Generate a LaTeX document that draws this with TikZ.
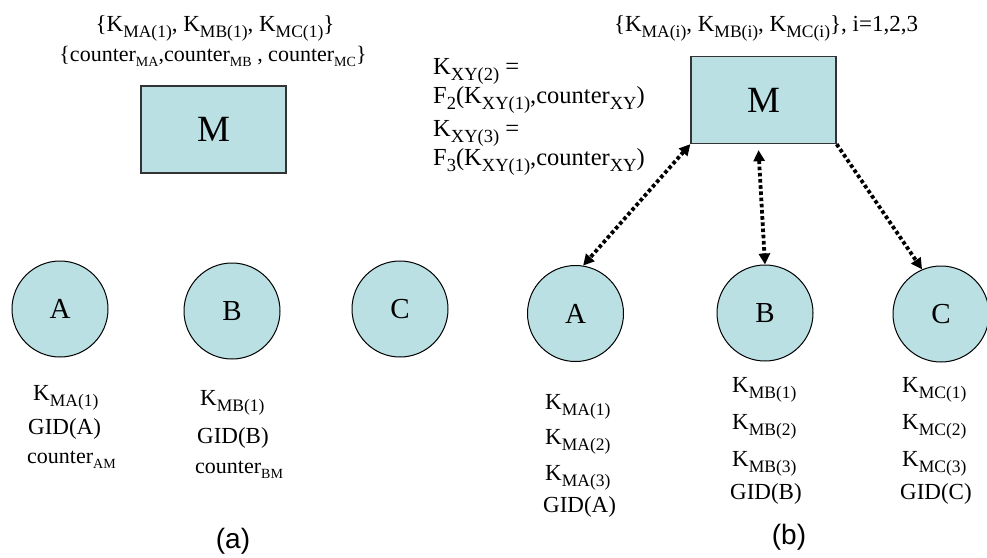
\documentclass[tikz,border=0pt]{standalone}
\usepackage{fontspec}
\setmainfont{Liberation Serif}
\newfontfamily\arialf{Liberation Sans}
\usetikzlibrary{arrows.meta,calc}
\definecolor{boxfill}{RGB}{186,224,227}
\newcommand\sbs[2][17.5]{\raisebox{-6pt}{\fontsize{#1}{18}\selectfont #2}}
\newcommand\ssb[1]{\raisebox{-5pt}{\fontsize{14}{15}\selectfont #1}}
\begin{document}
\begin{tikzpicture}[x=1pt,y=-1pt,
 mbox/.style={draw=black!80,line width=1.3pt,fill=boxfill,minimum width=145pt,minimum height=87pt,inner sep=0pt,font=\fontsize{37}{40}\selectfont},
 host/.style={circle,draw=black,line width=1pt,fill=boxfill,minimum size=96pt,inner sep=0pt,font=\fontsize{29}{32}\selectfont},
 lbl/.style={anchor=base west,inner sep=0pt,font=\fontsize{23}{27}\selectfont},
 ftxt/.style={anchor=base west,inner sep=0pt,font=\fontsize{24.5}{27}\selectfont},
 toptxt/.style={anchor=base,inner sep=0pt,font=\fontsize{23}{27}\selectfont},
 capt/.style={inner sep=0pt,font=\arialf\fontsize{28}{30}\selectfont},
 link/.style={line width=3.8pt,dash pattern=on 3.6pt off 2.6pt,-{Triangle[length=11pt,width=11pt]}},
 dlink/.style={line width=3.8pt,dash pattern=on 3.6pt off 2.6pt,{Triangle[length=11pt,width=11pt]}-{Triangle[length=11pt,width=11pt]}}
]
\useasboundingbox (0,0) rectangle (987,557);
% ---------- (a) ----------
\node[toptxt] (ta1) at (215,31) {\{K\sbs{MA(1)}, K\sbs{MB(1)}, K\sbs{MC(1)}\}};
\node[toptxt,font=\fontsize{22}{26}\selectfont] (ta2) at (213,61) {\{counter\ssb{MA},counter\ssb{MB} , counter\ssb{MC}\}};
\node[mbox] (M1) at (213.5,129.5) {M};
\node[host] (A1) at (60,309) {A};
\node[host] (B1) at (232,311) {B};
\node[host] (C1) at (400,309) {C};
\node[lbl] (la1) at (33,400) {K\sbs{MA(1)}};
\node[lbl] (la2) at (28,434) {GID(A)};
\node[lbl,font=\fontsize{22}{26}\selectfont] (la3) at (27,463) {counter\ssb{AM}};
\node[lbl] (lb1) at (200,405) {K\sbs{MB(1)}};
\node[lbl] (lb2) at (197,443) {GID(B)};
\node[lbl,font=\fontsize{22}{26}\selectfont] (lb3) at (195,473) {counter\ssb{BM}};
\node[capt] (capa) at (233,541) {(a)};
% ---------- (b) ----------
\node[toptxt] (tb1) at (766,31) {\{K\sbs{MA(i)}, K\sbs{MB(i)}, K\sbs{MC(i)}\}, i=1,2,3};
\node[ftxt] (f1) at (433,74) {K\sbs[18.5]{XY(2)} =};
\node[ftxt] (f2) at (433,103) {F\sbs[18.5]{2}(K\sbs[18.5]{XY(1)},counter\sbs[18.5]{XY})};
\node[ftxt] (f3) at (433,136) {K\sbs[18.5]{XY(3)} =};
\node[ftxt] (f4) at (433,165) {F\sbs[18.5]{3}(K\sbs[18.5]{XY(1)},counter\sbs[18.5]{XY})};
\node[mbox] (M2) at (763.5,100) {M};
\node[host] (A2) at (575.5,313.5) {A};
\node[host] (B2) at (765,313) {B};
\node[host] (C2) at (941,314) {C};
\node[lbl] (ra1) at (545,409) {K\sbs{MA(1)}};
\node[lbl] (ra2) at (545,444) {K\sbs{MA(2)}};
\node[lbl] (ra3) at (545,480) {K\sbs{MA(3)}};
\node[lbl] (ra4) at (543,512) {GID(A)};
\node[lbl] (rb1) at (732,392) {K\sbs{MB(1)}};
\node[lbl] (rb2) at (732,429) {K\sbs{MB(2)}};
\node[lbl] (rb3) at (732,466) {K\sbs{MB(3)}};
\node[lbl] (rb4) at (730,499) {GID(B)};
\node[lbl] (rc1) at (902,392) {K\sbs{MC(1)}};
\node[lbl] (rc2) at (902,429) {K\sbs{MC(2)}};
\node[lbl] (rc3) at (902,466) {K\sbs{MC(3)}};
\node[lbl] (rc4) at (900,499) {GID(C)};
\node[capt] (capb) at (789,537) {(b)};
\coordinate (m2s) at ([xshift=-5pt,yshift=-6pt]M2.south);
\draw[dlink] (M2.south west) -- (A2.81);
\draw[dlink] (m2s) -- (B2.north);
\draw[link] (M2.south east) -- (C2.113);
\end{tikzpicture}
\end{document}
